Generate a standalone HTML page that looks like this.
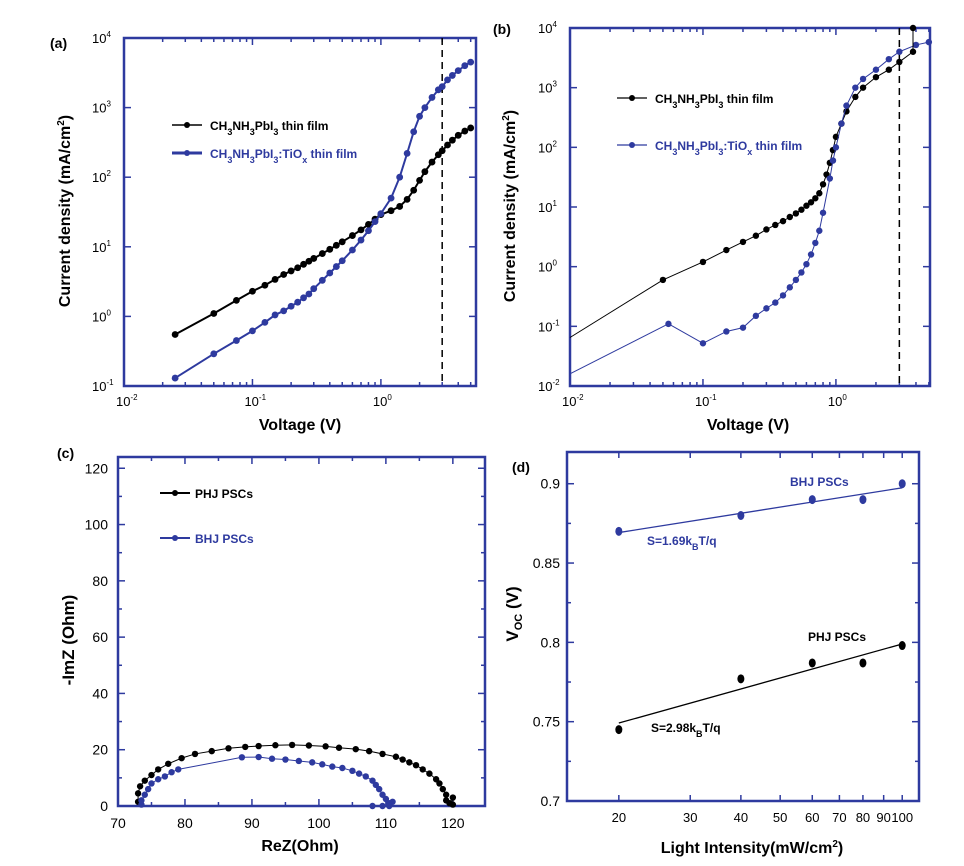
<!DOCTYPE html>
<html><head><meta charset="utf-8"><style>
body{margin:0;background:#fff;}
svg{display:block;font-family:"Liberation Sans",sans-serif;}
</style></head><body>
<svg id="fig" width="964" height="866" viewBox="0 0 964 866" xmlns="http://www.w3.org/2000/svg"></svg>
<script>
// ---------- Panel (a) data ----------
const aBlackV=[0.025,0.05,0.075,0.1,0.125,0.15,0.175,0.2,0.225,0.25,0.275,0.3,0.35,0.4,0.45,0.5,0.6,0.7,0.8,0.9,1.0,1.2,1.4,1.6,1.8,2.0,2.2,2.5,2.8,3.0,3.3,3.6,4.0,4.5,5.0];
const aBlackJ=[0.55,1.1,1.7,2.3,2.8,3.4,4.0,4.5,5.0,5.6,6.2,6.8,8,9.2,10.5,11.8,14.5,17.5,21,25,29,33,38,48,65,90,120,165,210,240,290,340,400,460,510];
const aBlueV=[0.025,0.05,0.075,0.1,0.125,0.15,0.175,0.2,0.225,0.25,0.275,0.3,0.35,0.4,0.45,0.5,0.6,0.7,0.8,0.9,1.0,1.2,1.4,1.6,1.8,2.0,2.2,2.5,2.8,3.0,3.3,3.6,4.0,4.5,5.0];
const aBlueJ=[0.13,0.29,0.45,0.62,0.82,1.05,1.2,1.4,1.6,1.85,2.1,2.5,3.3,4.2,5.2,6.3,9,12.5,17,23,30,50,100,220,450,750,1000,1400,1800,2000,2500,2900,3400,4000,4500];
const aDashV=3.0;
// ---------- Panel (b) data ----------
const bBlackV=[0.05,0.1,0.15,0.2,0.25,0.3,0.35,0.4,0.45,0.5,0.55,0.6,0.65,0.7,0.75,0.8,0.85,0.9,0.95,1.0,1.1,1.2,1.4,1.6,2.0,2.5,3.0,3.8];
const bBlackJ=[0.6,1.2,1.9,2.6,3.3,4.2,5,5.8,6.8,7.8,9,10.5,12,14,17,24,35,55,90,150,250,400,700,1000,1500,2000,2700,4000];
const bBlackStart=[0.01,0.065];
const bBlackSpike=[3.8,10000];
const bBlueV=[0.055,0.1,0.15,0.2,0.25,0.3,0.35,0.4,0.45,0.5,0.55,0.6,0.65,0.7,0.75,0.8,0.9,0.95,1.0,1.1,1.2,1.4,1.6,2.0,2.5,3.0,4.0,5.0];
const bBlueJ=[0.11,0.052,0.082,0.095,0.15,0.2,0.25,0.33,0.45,0.6,0.8,1.1,1.6,2.5,4,8,30,60,100,250,500,1000,1400,2000,3000,4000,5200,5800];
const bBlueStart=[0.01,0.016];
const bDashV=3.0;
// ---------- Panel (c) data ----------
const cBlackRe=[73,73,73.3,74,75,76,77.5,79.5,81.5,84,86.5,89,91,93.5,96,98.5,101,103,105.5,107.5,109.5,111.5,112.5,113.5,114.5,115.5,116.5,117.5,118,118.5,119,119,119.5,120,120];
const cBlackIm=[1.5,4.5,7,9,11,13,15,17,18.5,19.5,20.5,21,21.3,21.6,21.7,21.5,21.2,20.7,20.2,19.5,18.5,17.5,16.5,15.5,14.5,13,11.5,9.5,8,6,4,2,1,3,0.5];
const cBlueRe=[73.5,73.5,74,74.5,75,76,77,78,79,88.5,91,93,95,97,99,100.5,102,103.5,105,106,107,108,108.5,109,109.5,110,110.5,111,110.5,109.5,108];
const cBlueIm=[0.5,2,4,6,8,9.5,10.5,12,13,17.3,17.4,16.8,16.5,16,15.5,14.8,14,13.5,12.5,11.5,10.5,9,7.5,6,4,2.5,1,1.5,0,0,0];
// ---------- Panel (d) data ----------
const dIntensity=[20,40,60,80,100];
const dBHJ=[0.87,0.88,0.89,0.89,0.90];
const dPHJ=[0.745,0.777,0.787,0.787,0.798];

const BLUE="#2e3a9f", NS="http://www.w3.org/2000/svg";
const svg=document.getElementById('fig');
function mk(tag,attrs,parent){const e=document.createElementNS(NS,tag);for(const k in attrs)e.setAttribute(k,attrs[k]);(parent||svg).appendChild(e);return e;}
function txt(x,y,s,opt,parent){const t=mk('text',Object.assign({x:x,y:y,'font-size':13,fill:'#000'},opt||{}),parent);t.innerHTML=s;return t;}

function logAxis(lo,hi,p0,p1){return v=>p0+(Math.log10(v)-lo)/(hi-lo)*(p1-p0);}
function linAxis(lo,hi,p0,p1){return v=>p0+(v-lo)/(hi-lo)*(p1-p0);}

function frame(g,L,T,R,B){
  const r=mk('rect',{x:L,y:T,width:R-L,height:B-T,fill:'none',stroke:BLUE,'stroke-width':2.5},g);
  
  
}
function tick(g,x1,y1,x2,y2){mk('line',{x1:x1,y1:y1,x2:x2,y2:y2,stroke:BLUE,'stroke-width':1.5},g);}

function series(g,name,xs,ys,sx,sy,color,lw,r){
  const sg=mk('g',{},g);
  
  
  const pts=xs.map((x,i)=>sx(x)+','+sy(ys[i])).join(' ');
  mk('polyline',{points:pts,fill:'none',stroke:color,'stroke-width':lw},sg);
  xs.forEach((x,i)=>{const c=mk('circle',{cx:sx(x),cy:sy(ys[i]),r:r,fill:color},sg);
    
    });
  return sg;
}

function logXTicks(g,sx,lo,hi,B,T,L,R,labelY){
  for(let d=lo;d<hi;d++){for(let m=1;m<10;m++){const v=m*Math.pow(10,d);const x=sx(v);if(x>R+0.5)continue;
    const len=m===1?7:4;tick(g,x,B,x,B-len);tick(g,x,T,x,T+len);
    if(m===1){const t=txt(x-8,labelY,'10<tspan font-size="8" dy="-6">'+d+'</tspan>',{},g);
      
      }}}
}
function logYTicks(g,sy,lo,hi,L,R,labelX){
  for(let d=lo;d<=hi;d++){const y=sy(Math.pow(10,d));tick(g,L,y,L+7,y);tick(g,R,y,R-7,y);
    const t=txt(labelX,y+5,'10<tspan font-size="8" dy="-6">'+d+'</tspan>',{},g);
    
    }
}

// ===== Panel (a) =====
(function(){
  const g=mk('g',{});
  const L=124,R=476,T=38,B=386;
  const sx=logAxis(-2,Math.log10(5.5),L,R), sy=logAxis(-1,4,B,T);
  frame(g,L,T,R,B);
  logXTicks(g,sx,-2,1,B,T,L,R,406);
  logYTicks(g,sy,-1,4,L,R,92);
  const dash=mk('line',{x1:sx(aDashV),y1:T,x2:sx(aDashV),y2:B,stroke:'#000','stroke-width':1.5,'stroke-dasharray':'7,5'},g);
  
  series(g,'series-mapbi3-film',aBlackV,aBlackJ,sx,sy,'#000',2,3.4);
  series(g,'series-mapbi3-tiox-film',aBlueV,aBlueJ,sx,sy,BLUE,2,3.4);
  const lg=mk('g',{},g);
  mk('line',{x1:172,y1:125,x2:202,y2:125,stroke:'#000','stroke-width':1.5},lg);mk('circle',{cx:187,cy:125,r:3,fill:'#000'},lg);
  txt(210,130,'CH<tspan font-size="9" dy="5">3</tspan><tspan dy="-5">NH</tspan><tspan font-size="9" dy="5">3</tspan><tspan dy="-5">PbI</tspan><tspan font-size="9" dy="5">3</tspan><tspan dy="-5"> thin film</tspan>',{'font-weight':'bold','font-size':12},lg);
  mk('line',{x1:172,y1:153,x2:202,y2:153,stroke:BLUE,'stroke-width':3},lg);mk('circle',{cx:187,cy:153,r:3,fill:BLUE},lg);
  txt(210,158,'CH<tspan font-size="9" dy="5">3</tspan><tspan dy="-5">NH</tspan><tspan font-size="9" dy="5">3</tspan><tspan dy="-5">PbI</tspan><tspan font-size="9" dy="5">3</tspan><tspan dy="-5">:TiO</tspan><tspan font-size="9" dy="5">x</tspan><tspan dy="-5"> thin film</tspan>',{'font-weight':'bold','font-size':12,fill:BLUE},lg);
  const pl=txt(50,48,'(a)',{'font-weight':'bold','font-size':14},g);
  const xt=txt(300,430,'Voltage (V)',{'font-weight':'bold','font-size':16,'text-anchor':'middle'},g);
  const yt=txt(0,0,'Current density (mA/cm<tspan font-size="10" dy="-6">2</tspan><tspan dy="6">)</tspan>',{'font-weight':'bold','font-size':16,'text-anchor':'middle',transform:'translate(70,211) rotate(-90)'},g);
})();

// ===== Panel (b) =====
(function(){
  const g=mk('g',{});
  const L=570,R=930,T=28,B=386;
  const sx=logAxis(-2,Math.log10(5.1),L,R), sy=logAxis(-2,4,B,T);
  frame(g,L,T,R,B);
  logXTicks(g,sx,-2,1,B,T,L,R,406);
  logYTicks(g,sy,-2,4,L,R,538);
  const dash=mk('line',{x1:sx(bDashV),y1:T,x2:sx(bDashV),y2:B,stroke:'#000','stroke-width':1.5,'stroke-dasharray':'7,5'},g);
  
  mk('line',{x1:sx(bBlackStart[0]),y1:sy(bBlackStart[1]),x2:sx(bBlackV[0]),y2:sy(bBlackJ[0]),stroke:'#000','stroke-width':1},g);
  mk('line',{x1:sx(bBlueStart[0]),y1:sy(bBlueStart[1]),x2:sx(bBlueV[0]),y2:sy(bBlueJ[0]),stroke:BLUE,'stroke-width':1},g);
  series(g,'series-mapbi3-film',bBlackV,bBlackJ,sx,sy,'#000',1,3.2);
  series(g,'series-mapbi3-tiox-film',bBlueV,bBlueJ,sx,sy,BLUE,1,3.2);
  mk('line',{x1:sx(bBlackSpike[0]),y1:sy(bBlackSpike[1]),x2:sx(bBlackSpike[0]),y2:sy(bBlackJ[bBlackJ.length-1]),stroke:'#000','stroke-width':1},g);
  mk('circle',{cx:sx(bBlackSpike[0]),cy:sy(bBlackSpike[1]),r:3.2,fill:'#000'},g);
  const lg=mk('g',{},g);
  mk('line',{x1:617,y1:98,x2:647,y2:98,stroke:'#000','stroke-width':1.2},lg);mk('circle',{cx:632,cy:98,r:3,fill:'#000'},lg);
  txt(655,103,'CH<tspan font-size="9" dy="5">3</tspan><tspan dy="-5">NH</tspan><tspan font-size="9" dy="5">3</tspan><tspan dy="-5">PbI</tspan><tspan font-size="9" dy="5">3</tspan><tspan dy="-5"> thin film</tspan>',{'font-weight':'bold','font-size':12},lg);
  mk('line',{x1:617,y1:145,x2:647,y2:145,stroke:BLUE,'stroke-width':1.2},lg);mk('circle',{cx:632,cy:145,r:3,fill:BLUE},lg);
  txt(655,150,'CH<tspan font-size="9" dy="5">3</tspan><tspan dy="-5">NH</tspan><tspan font-size="9" dy="5">3</tspan><tspan dy="-5">PbI</tspan><tspan font-size="9" dy="5">3</tspan><tspan dy="-5">:TiO</tspan><tspan font-size="9" dy="5">x</tspan><tspan dy="-5"> thin film</tspan>',{'font-weight':'bold','font-size':12,fill:BLUE},lg);
  const pl=txt(493,34,'(b)',{'font-weight':'bold','font-size':14},g);
  const xt=txt(748,430,'Voltage (V)',{'font-weight':'bold','font-size':16,'text-anchor':'middle'},g);
  const yt=txt(0,0,'Current density (mA/cm<tspan font-size="10" dy="-6">2</tspan><tspan dy="6">)</tspan>',{'font-weight':'bold','font-size':16,'text-anchor':'middle',transform:'translate(515,206) rotate(-90)'},g);
})();

// ===== Panel (c) =====
(function(){
  const g=mk('g',{});
  const L=118,R=485,T=457,B=806;
  const sx=linAxis(70,124.8,L,R), sy=linAxis(0,124,B,T);
  frame(g,L,T,R,B);
  for(let v=70;v<=120;v+=5){const x=sx(v);const len=v%10===0?7:4;tick(g,x,B,x,B-len);tick(g,x,T,x,T+len);
    if(v%10===0){const t=txt(x,828,String(v),{'text-anchor':'middle','font-size':14},g);}}
  for(let v=0;v<=120;v+=10){const y=sy(v);const len=v%20===0?7:4;tick(g,L,y,L+len,y);tick(g,R,y,R-len,y);
    if(v%20===0){const t=txt(108,y+5,String(v),{'text-anchor':'end','font-size':14},g);}}
  series(g,'series-phj-pscs',cBlackRe,cBlackIm,sx,sy,'#000',1,3.2);
  series(g,'series-bhj-pscs',cBlueRe,cBlueIm,sx,sy,BLUE,1,3.2);
  const lg=mk('g',{},g);
  mk('line',{x1:160,y1:493,x2:190,y2:493,stroke:'#000','stroke-width':2},lg);mk('circle',{cx:175,cy:493,r:3,fill:'#000'},lg);
  txt(195,498,'PHJ PSCs',{'font-weight':'bold','font-size':12},lg);
  mk('line',{x1:160,y1:538,x2:190,y2:538,stroke:BLUE,'stroke-width':2},lg);mk('circle',{cx:175,cy:538,r:3,fill:BLUE},lg);
  txt(195,543,'BHJ PSCs',{'font-weight':'bold','font-size':12,fill:BLUE},lg);
  const pl=txt(57,458,'(c)',{'font-weight':'bold','font-size':14},g);
  const xt=txt(300,851,'ReZ(Ohm)',{'font-weight':'bold','font-size':16,'text-anchor':'middle'},g);
  const yt=txt(0,0,'-ImZ (Ohm)',{'font-weight':'bold','font-size':17,'text-anchor':'middle',transform:'translate(74,640) rotate(-90)'},g);
})();

// ===== Panel (d) =====
(function(){
  const g=mk('g',{});
  const L=567,R=919,T=452,B=801;
  const sx=logAxis(Math.log10(14.9),Math.log10(110),L,R), sy=linAxis(0.7,0.92,B,T);
  frame(g,L,T,R,B);
  [20,30,40,50,60,70,80,90,100].forEach(v=>{const x=sx(v);tick(g,x,B,x,B-6);tick(g,x,T,x,T+6);
    const t=txt(x,822,String(v),{'text-anchor':'middle','font-size':13},g);});
  for(let i=0;i<=8;i++){const v=0.7+i*0.025;const y=sy(v);const len=i%2===0?7:4;tick(g,L,y,L+len,y);tick(g,R,y,R-len,y);
    if(i%2===0){const t=txt(560,y+5,String(+v.toFixed(3)),{'text-anchor':'end','font-size':14},g);}}
  function fit(ys){const lx=dIntensity.map(v=>Math.log10(v));const n=lx.length;const mx=lx.reduce((a,b)=>a+b)/n,my=ys.reduce((a,b)=>a+b)/n;
    let sxy=0,sxx=0;lx.forEach((x,i)=>{sxy+=(x-mx)*(ys[i]-my);sxx+=(x-mx)*(x-mx);});const k=sxy/sxx;return v=>my+k*(Math.log10(v)-mx);}
  [[dBHJ,BLUE,'bhj'],[dPHJ,'#000','phj']].forEach(([ys,c,n])=>{
    const f=fit(ys);const x0=dIntensity[0],x1=dIntensity[dIntensity.length-1];
    const ln=mk('line',{x1:sx(x0),y1:sy(f(x0)),x2:sx(x1),y2:sy(f(x1)),stroke:c,'stroke-width':1.3},g);
    
    dIntensity.forEach((x,i)=>{const e=mk('ellipse',{cx:sx(x),cy:sy(ys[i]),rx:3.5,ry:4.5,fill:c},g);
      });
  });
  txt(790,486,'BHJ PSCs',{'font-weight':'bold','font-size':12,fill:BLUE},g);
  txt(647,545,'S=1.69k<tspan font-size="9" dy="5">B</tspan><tspan dy="-5">T/q</tspan>',{'font-weight':'bold','font-size':12,fill:BLUE},g);
  txt(808,641,'PHJ PSCs',{'font-weight':'bold','font-size':12},g);
  txt(651,732,'S=2.98k<tspan font-size="9" dy="5">B</tspan><tspan dy="-5">T/q</tspan>',{'font-weight':'bold','font-size':12},g);
  const pl=txt(512,472,'(d)',{'font-weight':'bold','font-size':14},g);
  const xt=txt(752,853,'Light Intensity(mW/cm<tspan font-size="10" dy="-6">2</tspan><tspan dy="6">)</tspan>',{'font-weight':'bold','font-size':16,'text-anchor':'middle'},g);
  const yt=txt(0,0,'V<tspan font-size="11" dy="4">OC</tspan><tspan dy="-4"> (V)</tspan>',{'font-weight':'bold','font-size':17,'text-anchor':'middle',transform:'translate(518,614) rotate(-90)'},g);
})();
</script>
</body></html>
